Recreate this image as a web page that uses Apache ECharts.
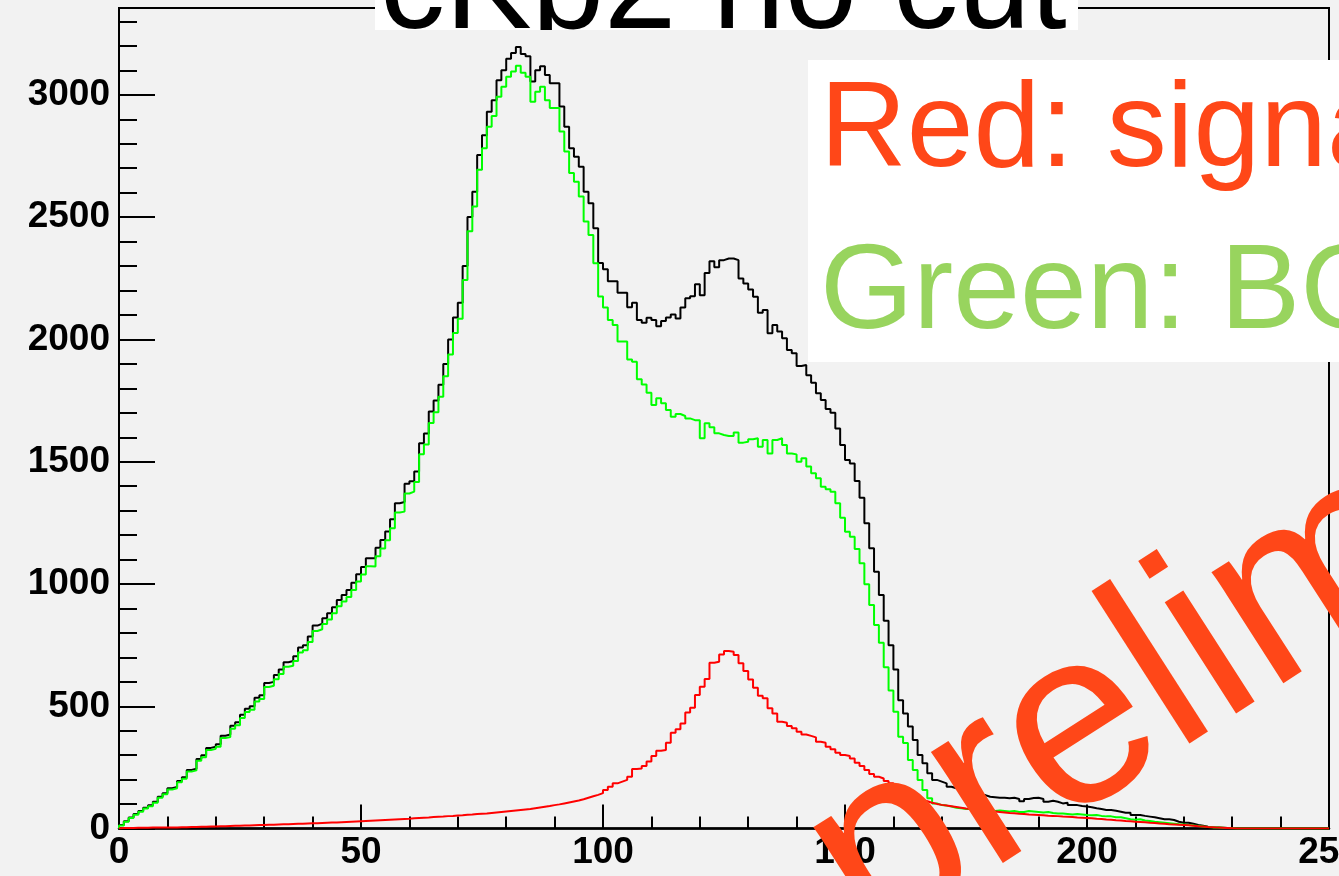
<!DOCTYPE html>
<html>
<head>
<meta charset="utf-8">
<script src="https://cdn.jsdelivr.net/npm/echarts@6/dist/echarts.min.js"></script>
<style>
html,body{margin:0;padding:0;background:#f2f2f2;}
#wrap{position:relative;width:1339px;height:876px;overflow:hidden;}
#chart{width:1339px;height:876px;}
#title{position:absolute;left:375px;top:0;width:703px;height:30px;background:#fff;overflow:hidden;z-index:10;}
#title span{position:absolute;left:5px;top:-82px;font-family:"Liberation Sans";font-size:130px;line-height:130px;color:#000;white-space:nowrap;}
</style>
</head>
<body>
<div id="wrap">
<div id="chart"></div>
<div id="title"><span id="titleText"></span></div>
</div>
<script>
// Histogram bins: width 1, from 0 to 250
const binEdges = {start: 0, width: 1, count: 250};
const xTicks = [0, 50, 100, 150, 200, 250];
const yTicks = [0, 500, 1000, 1500, 2000, 2500, 3000];

const totalCounts = [
  15,30,45,60,72,85,95,110,130,145,
  165,170,195,210,240,245,285,300,330,335,
  345,380,385,420,435,465,490,500,535,545,
  595,600,628,650,680,685,705,740,750,785,
  830,838,860,880,905,935,955,975,1005,1040,
  1070,1105,1105,1148,1180,1215,1265,1330,1335,1410,
  1420,1460,1575,1615,1705,1750,1815,1900,2000,2090,
  2150,2300,2500,2604,2754,2835,2931,2978,3060,3101,
  3148,3171,3196,3167,3158,3054,3101,3117,3081,3047,
  3047,2952,2870,2782,2747,2706,2604,2557,2455,2312,
  2287,2238,2238,2191,2191,2132,2150,2079,2068,2089,
  2079,2054,2075,2090,2102,2086,2131,2168,2177,2226,
  2181,2272,2320,2295,2324,2331,2331,2324,2249,2229,
  2204,2174,2109,2120,2025,2059,2032,2005,1957,1943,
  1891,1895,1854,1823,1780,1752,1716,1700,1636,1568,
  1507,1493,1421,1353,1248,1146,1050,955,850,750,
  650,525,471,417,362,301,267,226,199,192,
  185,171,165,158,151,144,144,137,137,130,
  128,126,126,124,126,121,112,121,125,126,
  121,110,114,110,103,106,96,96,92,90,
  87,83,80,76,76,73,69,65,65,56,
  56,52,49,46,42,38,38,35,28,24,
  24,20,15,12,8,5,4,3,2,1,
  0,0,0,0,0,0,0,0,0,0,
  0,0,0,0,0,0,0,0,0,0
];

const bgCounts = [
  13,28,43,57,69,82,91,106,126,140,
  160,165,189,204,233,238,277,292,321,326,
  335,370,374,408,423,452,477,486,520,530,
  579,584,611,632,662,666,685,720,729,763,
  808,815,836,855,880,909,928,947,976,1010,
  1039,1073,1072,1114,1145,1179,1228,1292,1296,1370,
  1378,1417,1531,1570,1658,1702,1766,1849,1938,2026,
  2085,2243,2442,2543,2694,2782,2870,2913,2992,3033,
  3074,3095,3119,3090,3074,2972,3013,3033,2978,2946,
  2946,2850,2768,2680,2645,2584,2482,2427,2311,2175,
  2131,2079,2059,1991,1991,1918,1909,1837,1816,1782,
  1732,1759,1739,1711,1684,1695,1687,1677,1670,1670,
  1596,1657,1641,1616,1609,1605,1605,1619,1578,1582,
  1592,1596,1561,1589,1534,1589,1596,1568,1534,1530,
  1500,1514,1480,1453,1432,1398,1387,1377,1330,1271,
  1214,1193,1143,1085,999,914,832,760,660,565,
  478,376,350,280,240,199,158,124,103,96,
  94,90,85,83,80,80,78,80,76,75,
  72,74,72,70,72,68,68,72,70,68,
  66,68,64,62,62,60,58,60,58,56,
  55,56,52,50,50,46,46,42,38,36,
  38,33,31,28,26,24,22,20,18,17,
  15,13,11,9,7,5,4,3,2,1,
  0,0,0,0,0,0,0,0,0,0,
  0,0,0,0,0,0,0,0,0,0
];

const signalCounts = [
  2,2,2,3,3,3,4,4,4,5,
  5,5,6,6,7,7,8,8,9,9,
  10,10,11,12,12,13,13,14,15,15,
  16,16,17,18,18,19,20,20,21,22,
  22,23,24,25,25,26,27,28,29,30,
  31,32,33,34,35,36,37,38,39,40,
  42,43,44,45,47,48,49,51,52,54,
  55,57,58,60,61,62,64,66,68,70,
  72,74,76,78,80,83,86,89,92,96,
  99,103,107,111,115,120,126,132,138,145,
  158,171,185,192,199,212,244,246,256,274,
  297,318,321,351,392,406,430,475,494,546,
  580,612,678,682,712,726,723,710,676,644,
  610,576,543,533,492,471,437,433,419,410,
  396,385,379,373,355,351,335,324,310,301,
  297,287,269,256,240,223,212,205,195,185,
  172,160,148,138,128,118,112,106,101,97,
  94,91,88,85,82,80,78,76,74,72,
  70,68,66,64,63,61,60,58,57,56,
  55,53,52,51,49,48,47,45,44,43,
  42,40,39,37,36,34,33,31,30,28,
  27,26,24,23,21,20,18,17,16,15,
  14,12,10,9,7,6,4,3,2,1,
  0,0,0,0,0,0,0,0,0,0,
  0,0,0,0,0,0,0,0,0,0
];

const titleText = 'cKp2 no cut';
const legendLines = ['Red: signal', 'Green: BG'];
const watermarkText = 'preliminary';

document.getElementById('titleText').textContent = titleText;

function histData(vals) {
  const d = [[binEdges.start, 0]];
  vals.forEach((v, i) => d.push([binEdges.start + i * binEdges.width, v]));
  d.push([binEdges.start + vals.length * binEdges.width, vals[vals.length - 1]]);
  return d;
}

const YMAX = 3355;
const labelFont = {fontFamily: 'Liberation Sans', fontWeight: 'bold', fontSize: 37, color: '#000'};

const chart = echarts.init(document.getElementById('chart'), null, {renderer: 'canvas'});
chart.setOption({
  backgroundColor: '#f2f2f2',
  animation: false,
  grid: {left: 119, right: 10, top: 8, bottom: 47.4, show: true, borderColor: '#000', borderWidth: 2,
         backgroundColor: '#f2f2f2', containLabel: false, outerBoundsMode: 'none'},
  xAxis: [{
    type: 'value', min: xTicks[0], max: xTicks[xTicks.length - 1], interval: 50,
    axisLine: {show: true, lineStyle: {color: '#000', width: 2.5}},
    axisTick: {show: true, inside: true, length: 24, lineStyle: {color: '#000', width: 2}},
    minorTick: {show: true, splitNumber: 5, length: 12, lineStyle: {color: '#000', width: 2}},
    splitLine: {show: false}, minorSplitLine: {show: false},
    axisLabel: Object.assign({margin: 6, hideOverlap: false}, labelFont)
  }],
  yAxis: [{
    type: 'value', min: 0, max: YMAX, interval: 500,
    axisLine: {show: true, lineStyle: {color: '#000', width: 2}},
    axisTick: {show: true, inside: true, length: 36, lineStyle: {color: '#000', width: 2}},
    splitLine: {show: false},
    axisLabel: Object.assign({margin: 9, showMaxLabel: false,
      formatter: v => (yTicks.indexOf(v) >= 0 ? String(v) : '')}, labelFont)
  }, {
    type: 'value', min: 0, max: YMAX, interval: 100, position: 'left',
    axisLine: {show: false},
    axisTick: {show: true, inside: true, length: 18, lineStyle: {color: '#000', width: 2}},
    splitLine: {show: false},
    axisLabel: {show: false}
  }],
  series: [
    {type: 'line', step: 'end', data: histData(totalCounts), symbol: 'none', xAxisIndex: 0, yAxisIndex: 0,
     lineStyle: {color: '#000000', width: 2}, z: 2},
    {type: 'line', step: 'end', data: histData(bgCounts), symbol: 'none', xAxisIndex: 0, yAxisIndex: 0,
     lineStyle: {color: '#00ff00', width: 2}, z: 3},
    {type: 'line', step: 'end', data: histData(signalCounts), symbol: 'none', xAxisIndex: 0, yAxisIndex: 0,
     lineStyle: {color: '#ff0000', width: 2}, z: 4}
  ],
  graphic: [
    {type: 'rect', z: 100, shape: {x: 808, y: 60, width: 540, height: 302}, style: {fill: '#ffffff'}},
    {type: 'text', z: 101, x: 820, y: 170, style: {text: legendLines[0], font: '120px "Liberation Sans"', fill: '#ff4718', verticalAlign: 'middle', x: 0, y: -37}},
    {type: 'text', z: 101, x: 820, y: 332, style: {text: legendLines[1], font: '120px "Liberation Sans"', fill: '#98d45e', verticalAlign: 'middle', x: 0, y: -37}},
    {type: 'text', z: 102, x: 876, y: 955, rotation: 0.57, style: {text: watermarkText, font: '250px "Liberation Sans"', fill: '#ff4718', verticalAlign: 'middle', x: 0, y: -78}}
  ]
});
</script>
</body>
</html>
